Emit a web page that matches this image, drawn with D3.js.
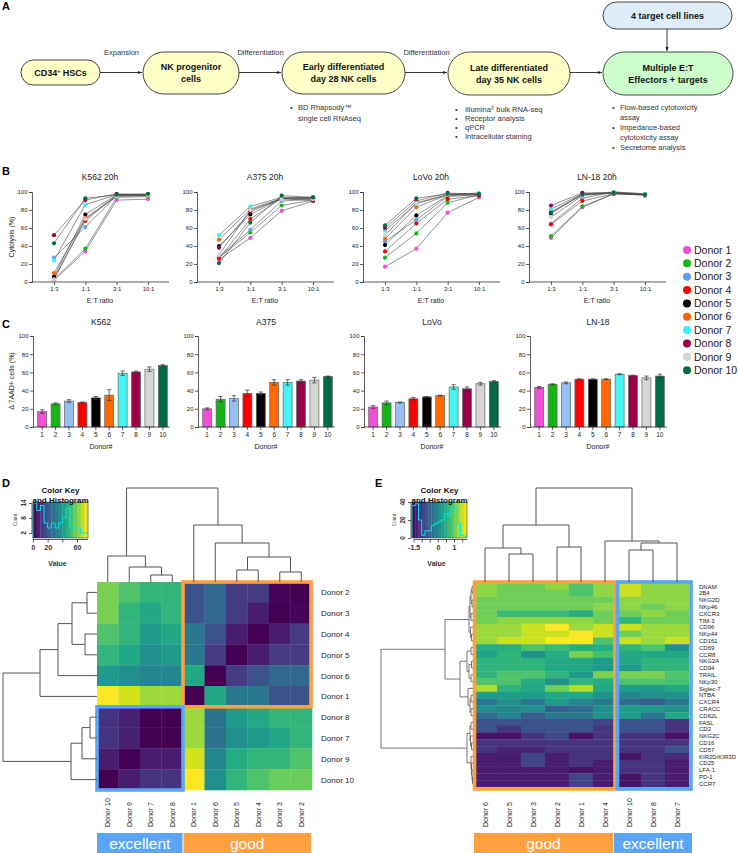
<!DOCTYPE html>
<html><head><meta charset="utf-8">
<script src="https://cdn.jsdelivr.net/npm/d3@7/dist/d3.min.js"></script>
<style>
html,body{margin:0;padding:0;background:#fff;}
svg{display:block;}
text{font-family:"Liberation Sans",Arial,Helvetica,sans-serif;}
</style></head>
<body>
<svg id="fig" width="738" height="853"></svg>
<script>
// ================= DATA =================
const donors = ["Donor 1","Donor 2","Donor 3","Donor 4","Donor 5","Donor 6","Donor 7","Donor 8","Donor 9","Donor 10"];
const donorNums = ["1","2","3","4","5","6","7","8","9","10"];
const donorColors = ["#f24fd8","#14b814","#5aa0f0","#ff0000","#000000","#ff6400","#36f2f2","#9c004a","#d4d4d4","#006b45"];
const barColors = ["#f04fd6","#14b414","#96c0f5","#ff0000","#000000","#ff6a00","#45f5f5","#9a0048","#d6d6d6","#006b45"];

// Panel A
const flowSteps = [["CD34^{+} HSCs"],["NK progenitor","cells"],["Early differentiated","day 28 NK cells"],["Late differentiated","day 35 NK cells"],["Multiple E:T","Effectors + targets"]];
const flowArrowLabels = ["Expansion","Differentiation","Differentiation",""];
const targetBoxLabel = "4 target cell lines";
const earlyBullets = [["BD Rhapsody™","single cell RNAseq"]];
const lateBullets = [["Illumina^{®} bulk RNA-seq"],["Receptor analysis"],["qPCR"],["Intracellular staining"]];
const assayBullets = [["Flow-based cytotoxicity","assay"],["Impedance-based","cytotoxicity assay"],["Secretome analysis"]];

// Panel B (cytolysis %, per donor at E:T 1:3, 1:1, 3:1, 10:1)
const etRatios = ["1:3","1:1","3:1","10:1"];
const lysisTitles = ["K562 20h","A375 20h","LoVo 20h","LN-18 20h"];
const lysisTicks = [0,20,40,60,80,100];
const lysisK562 = [[2,34,91,92],[3,37,94,95],[27,61,96,97],[4,68,97,97],[6,75,97,96],[10,71,96,97],[24,86,97,97],[52,91,98,97],[3,70,95,96],[43,93,97,98]];
const lysisA375 = [[25,49,79,90],[27,55,85,91],[28,58,90,92],[26,70,93,93],[40,75,93,94],[47,81,93,93],[52,84,94,94],[38,78,93,90],[30,80,92,92],[21,66,96,94]];
const lysisLoVo = [[17,37,77,94],[27,54,88,97],[45,69,95,97],[34,65,92,96],[41,74,96,97],[48,83,97,98],[57,87,97,99],[60,90,99,97],[52,88,97,98],[63,93,98,98]];
const lysisLN18 = [[49,83,98,97],[51,84,98,97],[65,93,100,98],[64,90,98,97],[76,98,99,97],[78,97,99,97],[81,98,100,98],[85,99,99,96],[72,96,99,97],[77,97,99,97]];

// Panel C (delta 7AAD+ %, mean and error)
const barTitles = ["K562","A375","LoVo","LN-18"];
const barK562 = [17,25.5,28.5,27,32,35,59,60.5,63.5,67.5];
const errK562 = [2,1,1.5,0.5,1.5,6,2.5,1,2.5,1];
const barA375 = [20,30.5,31.5,37,37,49,49,50.5,51.5,55.5];
const errA375 = [1,3,3,3.5,1.5,3,3,1.5,3,0.5];
const barLoVo = [22,26.5,27,31,33,34.5,44,42,47.5,50];
const errLoVo = [1.5,2,0.5,1.5,0.5,0.5,2.5,2,1.5,1];
const barLN18 = [43.5,47,48.5,52.5,52.5,52.5,58,56.5,54,56];
const errLN18 = [1,0.5,1,0.5,0.5,0.5,0.5,0.5,2,2];

// Panel D
const hmDCols = ["Donor 10","Donor 9","Donor 7","Donor 8","Donor 1","Donor 6","Donor 5","Donor 4","Donor 3","Donor 2"];
const hmDRows = ["Donor 2","Donor 3","Donor 4","Donor 5","Donor 6","Donor 1","Donor 8","Donor 7","Donor 9","Donor 10"];
const hmDValues = [
 [60,54,49,49,19,25,13,13,1,0],
 [60,49,45,49,19,25,13,6,0,1],
 [54,49,41,45,30,19,6,0,6,13],
 [49,45,37,41,30,13,0,6,13,13],
 [41,37,34,34,45,0,13,19,25,25],
 [75,70,64,64,0,45,30,30,19,19],
 [11,7,0,0,64,28,41,45,49,49],
 [11,7,0,0,64,28,37,41,45,49],
 [6,0,6,6,70,34,46,49,49,54],
 [0,6,11,11,75,37,49,54,58,58]];
const hmDColTree = {h:94,c:[{h:26,c:["Donor 10",{h:15,c:["Donor 9",{h:7,c:["Donor 7","Donor 8"]}]}]},{h:57,c:["Donor 1",{h:39,c:["Donor 6",{h:25,c:[{h:12,c:["Donor 5","Donor 4"]},{h:10,c:["Donor 3","Donor 2"]}]}]}]}]};
const hmDRowTree = {h:94,c:[{h:57,c:[{h:39,c:[{h:25,c:[{h:10,c:["Donor 2","Donor 3"]},{h:12,c:["Donor 4","Donor 5"]}]},"Donor 6"]},"Donor 1"]},{h:26,c:[{h:15,c:[{h:7,c:["Donor 8","Donor 7"]},"Donor 9"]},"Donor 10"]}]};
const keyDEdges = [0,5,10,15,20,25,30,35,40,45,50,55,60,65,70,75];
const keyDCounts = [14,11,13,6,4,6,4,6,8,12,4,4,4,2,2];
const keyDTicks = [0,20,40,60];
const keyDTickLabels = ["0","20","","60"];
const keyDCountTicks = [2,8,14];
const groupsD = ["excellent","good"];

// Panel E
const hmECols = ["Donor 6","Donor 5","Donor 3","Donor 2","Donor 1","Donor 4","Donor 10","Donor 8","Donor 7"];
const hmERows = ["DNAM","2B4","NKG2D","NKp46","CXCR3","TIM-3","CD96","NKp44","CD161","CD69","CCR8","NKG2A","CD94","TRAIL","NKp30","Siglec-7","NTBA","CXCR4","CRACC","CD62L","FASL","CD2","NKG2C","CD16","CD57","KIR2D/KIR3D","CD25","LFA-1","PD-1","CCR7"];
const hmEValues = [
 [1.22,1.05,1.05,1.22,0.85,1.22,1.53,1.22,1.22],
 [1.22,1.05,1.05,1.05,0.85,1.22,1.53,1.22,1.22],
 [1.05,1.05,1.05,1.05,1.05,1.05,1.22,1.22,1.22],
 [1.05,1.05,1.05,1.05,1.05,1.22,1.22,1.05,1.22],
 [1.05,0.71,0.71,0.71,0.51,1.05,1.05,1.22,1.05],
 [1.05,1.22,1.22,1.22,1.22,1.05,0.61,1.05,1.05],
 [1.29,1.29,1.53,1.8,1.29,1.53,1.53,1.29,1.29],
 [1.29,1.29,1.53,1.53,1.8,1.53,1.05,1.29,1.29],
 [1.29,1.53,1.53,1.8,1.8,0.85,1.53,1.29,1.53],
 [0.51,0.51,0.85,0.71,0.51,0.51,0.61,0.85,0.1],
 [0.37,0.61,0.1,0.51,1.12,0.78,0.44,0.44,0.44],
 [0.61,0.61,0.61,0.44,0.44,0.27,0.44,0.61,0.61],
 [0.61,0.61,0.61,0.44,0.44,0.27,0.27,0.61,0.61],
 [0.61,0.85,0.85,0.61,0.27,1.12,1.12,1.12,0.85],
 [0.85,0.85,0.51,0.1,0.61,0.51,0.85,0.85,0.78],
 [1.39,0.61,0.44,1.05,1.39,0.44,0.27,0.27,0.44],
 [0.27,0.27,0.27,0.44,0.44,0.1,-0.07,0.1,0.1],
 [-0.24,0.1,-0.24,0.27,-0.07,-0.24,-0.41,-0.58,-0.24],
 [0.1,-0.07,0.1,-0.58,-0.41,0.1,0.27,0.27,0.1],
 [-0.41,-0.07,-0.58,-0.24,-0.24,0.1,0.27,-0.24,0.44],
 [-0.75,-0.75,-0.75,-0.75,-0.75,-0.92,-0.75,-0.75,-1.09],
 [-0.75,-1.09,-0.75,-0.75,-0.75,-1.09,-0.75,-0.75,-1.09],
 [-1.43,-1.43,-1.09,-0.85,-1.43,-1.09,-1.09,-1.09,-1.43],
 [-1.09,-1.09,-1.09,-1.09,-1.09,-1.09,-1.09,-1.09,-1.09],
 [-1.09,-1.26,-1.26,-1.09,-1.09,-1.09,-1.09,-1.09,-0.75],
 [-1.33,-1.33,-0.92,-1.33,-1.09,-1.09,-1.43,-1.09,-1.19],
 [-1.33,-1.33,-0.92,-1.33,-1.09,-1.33,-1.09,-1.09,-1.33],
 [-1.33,-1.33,-1.33,-1.33,-1.43,-1.33,-1.09,-1.09,-1.33],
 [-1.33,-1.33,-1.33,-1.33,-0.92,-1.33,-1.43,-1.09,-1.33],
 [-1.33,-1.33,-1.33,-1.33,-0.92,-1.33,-1.43,-1.09,-1.33]];
const hmEColTree = {h:94,c:[{h:57,c:[{h:34,c:["Donor 6",{h:28,c:["Donor 5","Donor 3"]}]},{h:35,c:["Donor 2","Donor 1"]}]},{h:41,c:["Donor 4",{h:39,c:[{h:32,c:["Donor 10","Donor 8"]},"Donor 7"]}]}]};
const hmERowTree = {h:92,c:[
  {h:28,c:[
    {h:4,c:[{h:3,c:[{h:2,c:[{h:1,c:["DNAM","2B4"]},{h:1,c:["NKG2D","NKp46"]}]},{h:2,c:["CXCR3","TIM-3"]}]},{h:2.5,c:["CD96",{h:1.5,c:["NKp44","CD161"]}]}]},
    {h:13,c:[
      {h:6,c:[{h:2,c:["CD69","CCR8"]},{h:4,c:[{h:1.5,c:["NKG2A","CD94"]},{h:2,c:["TRAIL","NKp30"]}]}]},
      {h:5,c:["Siglec-7",{h:3,c:[{h:2,c:["NTBA","CXCR4"]},{h:2,c:["CRACC","CD62L"]}]}]}]}]},
  {h:6,c:[{h:3,c:[{h:2,c:["FASL","CD2"]},{h:2.5,c:["NKG2C",{h:1.5,c:["CD16","CD57"]}]}]},{h:2,c:["KIR2D/KIR3D",{h:1.5,c:["CD25",{h:1,c:["LFA-1",{h:0.5,c:["PD-1","CCR7"]}]}]}]}]}]};
const keyEEdges = [-1.6,-1.4,-1.2,-1.0,-0.8,-0.6,-0.4,-0.2,0,0.2,0.4,0.6,0.8,1.0,1.2,1.4,1.6,1.8];
const keyECounts = [36,38,20,3,8,8,14,16,18,20,27,25,33,35,16,3,2];
const keyETicks = [-1.5,-1,-0.5,0,0.5,1,1.5];
const keyETickLabels = ["-1.5","","","0","","1",""];
const keyECountTicks = [0,20,40];
const groupsE = ["good","excellent"];

// ================= DRAWING =================
const svg = d3.select("#fig");
const INK = "#222";
const groupColor = {excellent:"#5aa5f5", good:"#ffa040"};

function rich(textSel, str){
  // supports ^{...} superscripts
  const parts = str.split(/(\^\{[^}]*\})/);
  parts.forEach(p=>{
    if(!p) return;
    if(p.startsWith("^{")){
      textSel.append("tspan").attr("baseline-shift","super").attr("font-size","0.6em").text(p.slice(2,-1));
    } else textSel.append("tspan").text(p);
  });
}
function panelLetter(t,x,y){
  svg.append("text").attr("x",x).attr("y",y).attr("font-size",11).attr("font-weight","bold").attr("fill","#000").text(t);
}

// ---------- Panel A ----------
panelLetter("A",2,10);
const defs = svg.append("defs");
defs.append("marker").attr("id","arr").attr("viewBox","0 0 8 8").attr("refX",8).attr("refY",4)
  .attr("markerWidth",5).attr("markerHeight",5).attr("orient","auto")
  .append("path").attr("d","M0,0.8L8,4L0,7.2Z").attr("fill","#222");
const boxGeom = [[21,60,79,25],[143,52,96,42],[282,52,123,42],[448,52,122,43],[603,52,130,43]];
const boxFill = ["#ffffc8","#ffffc8","#ffffc8","#ffffc8","#ccffcc"];
const gA = svg.append("g");
flowSteps.forEach((lines,i)=>{
  const [x,y,w,h] = boxGeom[i];
  gA.append("rect").attr("x",x).attr("y",y).attr("width",w).attr("height",h).attr("rx",h/2).attr("ry",h/2)
    .attr("fill",boxFill[i]).attr("stroke","#333").attr("stroke-width",0.9);
  const cy = y+h/2;
  lines.forEach((ln,j)=>{
    const t = gA.append("text").attr("x",x+w/2).attr("y",cy+3.2+(j-(lines.length-1)/2)*12)
      .attr("text-anchor","middle").attr("font-size",9).attr("font-weight","bold").attr("fill","#111");
    rich(t,ln);
  });
  if(i<flowSteps.length-1){
    const x1 = x+w, x2 = boxGeom[i+1][0];
    gA.append("line").attr("x1",x1).attr("x2",x2-1).attr("y1",72.5).attr("y2",72.5)
      .attr("stroke","#222").attr("stroke-width",0.9).attr("marker-end","url(#arr)");
    if(flowArrowLabels[i]) gA.append("text").attr("x",(x1+x2)/2).attr("y",55).attr("text-anchor","middle")
      .attr("font-size",7.5).attr("fill","#333").text(flowArrowLabels[i]);
  }
});
gA.append("rect").attr("x",603).attr("y",2).attr("width",129).attr("height",27).attr("rx",13.5).attr("ry",13.5)
  .attr("fill","#ddeefa").attr("stroke","#333").attr("stroke-width",0.9);
gA.append("text").attr("x",667.5).attr("y",18.5).attr("text-anchor","middle").attr("font-size",9).attr("font-weight","bold").attr("fill","#111").text(targetBoxLabel);
gA.append("line").attr("x1",667).attr("x2",667).attr("y1",29).attr("y2",51).attr("stroke","#222").attr("stroke-width",0.9).attr("marker-end","url(#arr)");
function bullets(list,bx,tx,y0,lh){
  let y=y0;
  list.forEach(item=>{
    gA.append("text").attr("x",bx).attr("y",y).attr("font-size",7.5).attr("fill","#333").text("•");
    item.forEach(ln=>{
      const t=gA.append("text").attr("x",tx).attr("y",y).attr("font-size",7.5).attr("fill","#333");
      rich(t,ln); y+=lh;
    });
  });
}
bullets(earlyBullets,290,298,110,10.5);
bullets(lateBullets,455,465,112,9);
bullets(assayBullets,612,620,110,10);

// ---------- Panel B ----------
panelLetter("B",2,175);
const chartX0 = [32,197,363,529];
const lysisSets = [lysisK562,lysisA375,lysisLoVo,lysisLN18];
function styleAxis(g,fs){
  g.selectAll("path,line").attr("stroke","#333").attr("stroke-width",0.8);
  g.selectAll("text").attr("font-size",fs).attr("fill",INK).attr("font-family",'"Liberation Sans",Arial,sans-serif');
}
lysisSets.forEach((set,k)=>{
  const x0 = chartX0[k];
  const x = d3.scalePoint().domain(etRatios).range([x0+22,x0+116]);
  const y = d3.scaleLinear().domain([0,100]).range([282,192]);
  const g = svg.append("g");
  const gy = g.append("g").attr("transform",`translate(${x0},0)`).call(d3.axisLeft(y).tickValues(lysisTicks).tickSize(3).tickPadding(1.5));
  styleAxis(gy,6);
  const gx = g.append("g").attr("transform","translate(0,282)").call(d3.axisBottom(x).tickSize(3).tickPadding(2));
  gx.select(".domain").attr("d",`M${x0},0H${x0+137}`);
  styleAxis(gx,6);
  g.append("text").attr("x",x0+68).attr("y",180).attr("text-anchor","middle").attr("font-size",8.5).attr("fill",INK).text(lysisTitles[k]);
  g.append("text").attr("x",x0+68).attr("y",303).attr("text-anchor","middle").attr("font-size",7).attr("fill",INK).text("E:T ratio");
  const line = d3.line().x((d,i)=>x(etRatios[i])).y(d=>y(d));
  set.forEach(vals=>{
    g.append("path").attr("d",line(vals)).attr("fill","none").attr("stroke","#4a4a4a").attr("stroke-width",0.6);
  });
  set.forEach((vals,di)=>{
    vals.forEach((v,i)=>{
      g.append("circle").attr("cx",x(etRatios[i])).attr("cy",y(v)).attr("r",2.1).attr("fill",donorColors[di]);
    });
  });
});
svg.append("text").attr("transform","translate(14,237) rotate(-90)").attr("text-anchor","middle").attr("font-size",7).attr("fill",INK).text("Cytolysis (%)");

// legend
donors.forEach((d,i)=>{
  const yy = 250+i*13.35;
  svg.append("circle").attr("cx",687).attr("cy",yy).attr("r",4).attr("fill",donorColors[i]);
  svg.append("text").attr("x",694).attr("y",yy+3.7).attr("font-size",10.5).attr("fill",INK).text(d);
});

// ---------- Panel C ----------
panelLetter("C",2,328);
const barSets = [[barK562,errK562],[barA375,errA375],[barLoVo,errLoVo],[barLN18,errLN18]];
barSets.forEach(([vals,errs],k)=>{
  const x0 = chartX0[k]+1;
  const x = d3.scaleBand().domain(donorNums).range([x0+2,x0+137]).paddingInner(0.33).paddingOuter(0.2);
  const y = d3.scaleLinear().domain([0,100]).range([427,336]);
  const g = svg.append("g");
  g.selectAll("rect.bar").data(vals).join("rect").attr("class","bar")
    .attr("x",(d,i)=>x(donorNums[i])).attr("width",x.bandwidth())
    .attr("y",d=>y(d)).attr("height",d=>y(0)-y(d))
    .attr("fill",(d,i)=>barColors[i]).attr("stroke","#666").attr("stroke-width",0.7);
  vals.forEach((v,i)=>{
    const cx = x(donorNums[i])+x.bandwidth()/2;
    g.append("line").attr("x1",cx).attr("x2",cx).attr("y1",y(v+errs[i])).attr("y2",y(v-errs[i])).attr("stroke","#333").attr("stroke-width",0.7);
    [v+errs[i],v-errs[i]].forEach(e=>g.append("line").attr("x1",cx-2.2).attr("x2",cx+2.2).attr("y1",y(e)).attr("y2",y(e)).attr("stroke","#333").attr("stroke-width",0.7));
  });
  const gy = g.append("g").attr("transform",`translate(${x0},0)`).call(d3.axisLeft(y).tickValues(lysisTicks).tickSize(3).tickPadding(1.5));
  styleAxis(gy,6);
  const gx = g.append("g").attr("transform","translate(0,427)").call(d3.axisBottom(x).tickSize(3).tickPadding(2));
  gx.select(".domain").attr("d",`M${x0},0H${x0+137}`);
  styleAxis(gx,6.5);
  g.append("text").attr("x",x0+68).attr("y",325).attr("text-anchor","middle").attr("font-size",8.5).attr("fill",INK).text(barTitles[k]);
  g.append("text").attr("x",x0+68).attr("y",449).attr("text-anchor","middle").attr("font-size",7).attr("fill",INK).text("Donor#");
});
svg.append("text").attr("transform","translate(14,381) rotate(-90)").attr("text-anchor","middle").attr("font-size",7).attr("fill",INK).text("Δ 7AAD+ cells (%)");

// ---------- Heatmap helpers ----------
function dendro(g,node,leafPos,hScale,orient){
  if(typeof node!=="object") return {p:leafPos(node),h:0};
  const kids = node.c.map(c=>dendro(g,c,leafPos,hScale,orient));
  const hp = hScale(node.h);
  kids.forEach(kd=>{
    if(orient==="top") g.append("line").attr("x1",kd.p).attr("x2",kd.p).attr("y1",hScale(kd.h)).attr("y2",hp);
    else g.append("line").attr("y1",kd.p).attr("y2",kd.p).attr("x1",hScale(kd.h)).attr("x2",hp);
  });
  const p0=kids[0].p, p1=kids[kids.length-1].p;
  if(orient==="top") g.append("line").attr("x1",p0).attr("x2",p1).attr("y1",hp).attr("y2",hp);
  else g.append("line").attr("y1",p0).attr("y2",p1).attr("x1",hp).attr("x2",hp);
  return {p:(p0+p1)/2,h:node.h};
}
function colorKey(o){
  const g = svg.append("g");
  const kx = d3.scaleLinear().domain([o.edges[0],o.edges[o.edges.length-1]]).range([o.x,o.x+o.w]);
  const ky = d3.scaleLinear().domain(o.countDomain).range([o.y+o.h,o.y]);
  const cs = d3.scaleSequential(d3.interpolateViridis).domain([o.edges[0],o.edges[o.edges.length-1]]);
  for(let i=0;i<o.edges.length-1;i++){
    g.append("rect").attr("x",kx(o.edges[i])).attr("width",kx(o.edges[i+1])-kx(o.edges[i])+0.3)
      .attr("y",o.y).attr("height",o.h).attr("fill",cs((o.edges[i]+o.edges[i+1])/2));
  }
  const pts=[];
  o.counts.forEach((c,i)=>{pts.push([kx(o.edges[i]),ky(c)]);pts.push([kx(o.edges[i+1]),ky(c)]);});
  pts.unshift([kx(o.edges[0]),ky(0)]);
  g.append("path").attr("d",d3.line()(pts)).attr("fill","none").attr("stroke","#00e8e8").attr("stroke-width",1);
  g.append("rect").attr("x",o.x).attr("y",o.y).attr("width",o.w).attr("height",o.h).attr("fill","none").attr("stroke","#333").attr("stroke-width",0.5);
  const ax = g.append("g").attr("transform",`translate(0,${o.y+o.h+1.5})`)
    .call(d3.axisBottom(kx).tickValues(o.ticks).tickFormat((d,i)=>o.tickLabels[i]).tickSize(3).tickPadding(2.5));
  ax.select(".domain").attr("d",`M${kx(o.ticks[0])},0H${o.x+o.w}`);
  styleAxis(ax,7); ax.selectAll("text").attr("font-weight","bold").attr("fill","#333");
  const ay = g.append("g").attr("transform",`translate(${o.x-1},0)`)
    .call(d3.axisLeft(ky).tickValues(o.countTicks).tickSize(3).tickFormat(""));
  styleAxis(ay,6);
  ay.select(".domain").attr("d",`M0,${ky(o.countTicks[0])}V${ky(o.countTicks[o.countTicks.length-1])}`);
  o.countTicks.forEach(t=>{
    g.append("text").attr("transform",`translate(${o.x-7},${ky(t)}) rotate(-90)`).attr("text-anchor","middle")
      .attr("font-size",6.5).attr("font-weight","bold").attr("fill","#333").text(t);
  });
  g.append("text").attr("transform",`translate(${o.x-16},${o.y+o.h/2}) rotate(-90)`).attr("text-anchor","middle")
    .attr("font-size",4.5).attr("fill","#444").text("Count");
  g.append("text").attr("x",o.x+o.w/2).attr("y",o.y-9).attr("text-anchor","middle").attr("font-size",8).attr("font-weight","bold").attr("fill","#111").text("Color Key");
  g.append("text").attr("x",o.x+o.w/2).attr("y",o.y+1).attr("text-anchor","middle").attr("font-size",8).attr("font-weight","bold").attr("fill","#111").text("and Histogram");
  g.append("text").attr("x",o.x+o.w/2-3).attr("y",o.y+o.h+28).attr("text-anchor","middle").attr("font-size",7).attr("font-weight","bold").attr("fill","#333").text("Value");
}

// ---------- Panel D ----------
panelLetter("D",2,487);
{
  const cx = d3.scaleBand().domain(hmDCols).range([97,312]);
  const ry = d3.scaleBand().domain(hmDRows).range([582,790]);
  const cs = d3.scaleSequential(d3.interpolateViridis).domain([0,75]);
  const g = svg.append("g");
  hmDValues.forEach((row,ri)=>row.forEach((v,ci)=>{
    g.append("rect").attr("x",cx(hmDCols[ci])).attr("y",ry(hmDRows[ri])).attr("width",cx.bandwidth()+0.3).attr("height",ry.bandwidth()+0.3).attr("fill",cs(v));
  }));
  const dg = svg.append("g").attr("stroke","#555").attr("stroke-width",1).attr("fill","none");
  dendro(dg,hmDColTree,n=>cx(n)+cx.bandwidth()/2,d3.scaleLinear().domain([0,94]).range([582,488]),"top");
  dendro(dg,hmDRowTree,n=>ry(n)+ry.bandwidth()/2,d3.scaleLinear().domain([0,94]).range([97,3]),"left");
  // cluster boxes
  const bw=3.6;
  g.append("rect").attr("x",cx("Donor 1")).attr("y",582).attr("width",312-cx("Donor 1")-1).attr("height",ry("Donor 8")-582)
    .attr("fill","none").attr("stroke",groupColor.good).attr("stroke-width",bw);
  g.append("rect").attr("x",97).attr("y",ry("Donor 8")).attr("width",cx("Donor 1")-97).attr("height",790-ry("Donor 8"))
    .attr("fill","none").attr("stroke",groupColor.excellent).attr("stroke-width",bw);
  hmDRows.forEach(r=>g.append("text").attr("x",321).attr("y",ry(r)+ry.bandwidth()/2+3).attr("font-size",8).attr("fill",INK).text(r));
  hmDCols.forEach(c=>g.append("text").attr("transform",`translate(${cx(c)+cx.bandwidth()/2+2.5},827) rotate(-90)`).attr("font-size",7).attr("fill",INK).text(c));
  // group bar
  const gx = [[97,182.5],[183.5,311]];
  groupsD.forEach((gr,i)=>{
    g.append("rect").attr("x",gx[i][0]).attr("y",833).attr("width",gx[i][1]-gx[i][0]).attr("height",20).attr("fill",groupColor[gr]);
    g.append("text").attr("x",(gx[i][0]+gx[i][1])/2).attr("y",849).attr("text-anchor","middle").attr("font-size",15.5).attr("fill","#fff").text(gr);
  });
  colorKey({x:33,y:502,w:55,h:36,edges:keyDEdges,counts:keyDCounts,countDomain:[0,14.4],countTicks:keyDCountTicks,ticks:keyDTicks,tickLabels:keyDTickLabels});
}

// ---------- Panel E ----------
panelLetter("E",375,487);
{
  const cx = d3.scaleBand().domain(hmECols).range([473,689]);
  const ry = d3.scaleBand().domain(hmERows).range([583,787]);
  const cs = d3.scaleSequential(d3.interpolateViridis).domain([-1.6,1.8]);
  const g = svg.append("g");
  hmEValues.forEach((row,ri)=>row.forEach((v,ci)=>{
    g.append("rect").attr("x",cx(hmECols[ci])).attr("y",ry(hmERows[ri])).attr("width",cx.bandwidth()+0.3).attr("height",ry.bandwidth()+0.3).attr("fill",cs(v));
  }));
  const dg = svg.append("g").attr("stroke","#555").attr("stroke-width",1).attr("fill","none");
  dendro(dg,hmEColTree,n=>cx(n)+cx.bandwidth()/2,d3.scaleLinear().domain([0,94]).range([582,488]),"top");
  const dl = svg.append("g").attr("stroke","#555").attr("stroke-width",0.8).attr("fill","none");
  dendro(dl,hmERowTree,n=>ry(n)+ry.bandwidth()/2,d3.scaleLinear().domain([0,92]).range([473,381]),"left");
  const bw=3.6, split = cx("Donor 10");
  g.append("rect").attr("x",474.5).attr("y",582).attr("width",split-2-474.5).attr("height",207)
    .attr("fill","none").attr("stroke",groupColor.good).attr("stroke-width",bw);
  g.append("rect").attr("x",split+0.5).attr("y",582).attr("width",691-split-0.5).attr("height",207)
    .attr("fill","none").attr("stroke",groupColor.excellent).attr("stroke-width",bw);
  hmERows.forEach(r=>g.append("text").attr("x",699).attr("y",ry(r)+ry.bandwidth()/2+2.2).attr("font-size",6).attr("fill",INK).text(r));
  hmECols.forEach(c=>g.append("text").attr("transform",`translate(${cx(c)+cx.bandwidth()/2+2.5},827) rotate(-90)`).attr("font-size",7).attr("fill",INK).text(c));
  const gx = [[474,613],[614,692]];
  groupsE.forEach((gr,i)=>{
    g.append("rect").attr("x",gx[i][0]).attr("y",833).attr("width",gx[i][1]-gx[i][0]).attr("height",20).attr("fill",groupColor[gr]);
    g.append("text").attr("x",(gx[i][0]+gx[i][1])/2).attr("y",849).attr("text-anchor","middle").attr("font-size",15.5).attr("fill","#fff").text(gr);
  });
  colorKey({x:412,y:502,w:55,h:36,edges:keyEEdges,counts:keyECounts,countDomain:[0,40],countTicks:keyECountTicks,ticks:keyETicks,tickLabels:keyETickLabels});
}
</script>
</body></html>
